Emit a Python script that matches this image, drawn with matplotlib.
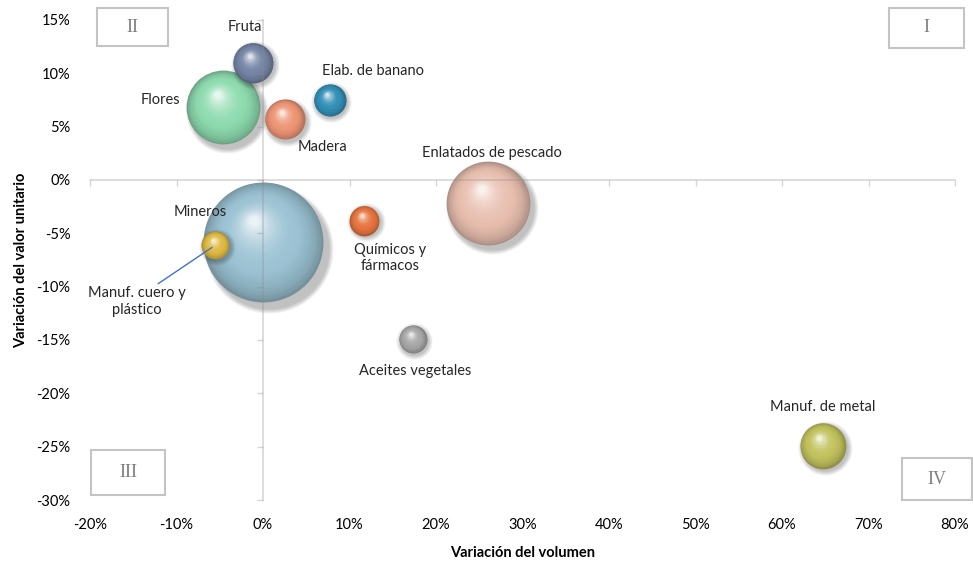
import numpy as np
import matplotlib
matplotlib.use('Agg')
import matplotlib.pyplot as plt
from matplotlib.colors import to_rgb
from matplotlib.patches import Rectangle
from matplotlib.transforms import offset_copy

plt.rcParams['font.family'] = ['Lato', 'DejaVu Sans']

# variación del volumen (%), variación del valor unitario (%), participación (%)
names = ['Mineros', 'Enlatados de pescado', 'Flores', 'Manuf. de metal', 'Fruta',
         'Madera', 'Elab. de banano', 'Químicos y\nfármacos', 'Aceites vegetales',
         'Manuf. cuero y\nplástico']
vol = [0.0, 26.0, -4.6, 64.7, -1.2, 2.5, 7.7, 11.7, 17.3, -5.5]
val = [-5.8, -2.2, 6.8, -24.9, 11.0, 5.7, 7.5, -3.8, -14.9, -6.1]
share = [40.3, 19.7, 15.3, 5.9, 4.5, 4.5, 2.9, 2.5, 2.2, 2.2]
colors = ['#9cc3d4', '#e9c0b0', '#8fdcb0', '#c2c25e', '#7686a6',
          '#ee9676', '#3390b8', '#e8753f', '#a8a8a8', '#e0ba44']
# label positions (data units)
lab_x = [-7.2, 26.5, -11.9, 64.7, -2.1, 6.9, 12.7, 14.7, 17.6, -14.6]
lab_y = [-3.0, 2.5, 7.5, -21.3, 14.3, 3.1, 10.2, -7.3, -17.9, -11.4]

xticks = list(range(-20, 81, 10))
yticks = list(range(-30, 16, 5))

SCALE = 185.0  # points^2 per unit of share


def sphere(ax, x, y, s, color, n=40):
    fig = ax.figure
    r = np.sqrt(s) / 2.0
    base = np.array(to_rgb(color))
    dark = base * 0.72
    white = np.ones(3)
    # soft drop shadow
    for k in range(6):
        tr = offset_copy(ax.transData, fig=fig, x=r * 0.10, y=-r * 0.12, units='points')
        ax.scatter(x, y, s=(2 * r + 1.2 * k) ** 2, color='k', alpha=0.045, lw=0,
                   transform=tr, zorder=3)
    for i in range(n):
        t = i / n
        rad = r * (1 - 0.94 * t)
        dx, dy = -0.16 * r * t, 0.36 * r * t
        if t < 0.35:
            c = dark + (base - dark) * (t / 0.35) ** 0.5
        else:
            c = base + (white - base) * ((t - 0.35) / 0.65) ** 2.0 * 0.9
        tr = offset_copy(ax.transData, fig=fig, x=dx, y=dy, units='points')
        ax.scatter(x, y, s=(2 * rad) ** 2, color=np.clip(c, 0, 1), lw=0,
                   alpha=0.93 if i == 0 else 0.6, transform=tr, zorder=3)


fig = plt.figure(figsize=(9.73, 5.7), dpi=100)
ax = fig.add_axes([90 / 973, 1 - 500 / 570, 865 / 973, 480 / 570])
ax.set_xlim(-20, 80)
ax.set_ylim(-30, 15)

order = np.argsort(share)[::-1]
for i in order:
    sphere(ax, vol[i], val[i], share[i] * SCALE, colors[i])

for i in range(len(names)):
    if names[i].startswith('Manuf. cuero'):
        ax.annotate(names[i], xy=(vol[i], val[i]), xytext=(lab_x[i], lab_y[i]),
                    ha='center', va='center', fontsize=10.5, color='#262626',
                    arrowprops=dict(arrowstyle='-', color='#4472c4', lw=1.0,
                                    relpos=(0.7, 1.05), shrinkA=0, shrinkB=3),
                    zorder=12)
    else:
        ax.text(lab_x[i], lab_y[i], names[i], ha='center', va='center',
                fontsize=10.5, color='#262626', zorder=12)

# axes crossing at zero
for side in ['top', 'right']:
    ax.spines[side].set_visible(False)
ax.spines['left'].set_position(('data', 0))
ax.spines['bottom'].set_position(('data', 0))
for side in ['left', 'bottom']:
    ax.spines[side].set_color('#8c8c8c')
    ax.spines[side].set_alpha(0.35)
    ax.spines[side].set_linewidth(1.2)
    ax.spines[side].set_zorder(10)
ax.xaxis.set_zorder(10)
ax.yaxis.set_zorder(10)
ax.set_xticks(xticks)
ax.set_yticks(yticks)
ax.tick_params(labelleft=False, labelbottom=False, direction='out', length=4,
               width=1.0, color=(0.55, 0.55, 0.55, 0.35))

sx = ax.secondary_xaxis('bottom')
sx.set_xticks(xticks)
sx.set_xticklabels([f'{v}%' for v in xticks])
sx.tick_params(length=0, pad=13, labelsize=10.5, labelcolor='#000000')
sx.spines['bottom'].set_visible(False)
sx.set_xlabel('Variación del volumen', fontsize=10.5, fontweight='bold', labelpad=10)

sy = ax.secondary_yaxis('left')
sy.set_yticks(yticks)
sy.set_yticklabels([f'{v}%' for v in yticks])
sy.tick_params(length=0, pad=14, labelsize=10.5, labelcolor='#000000')
sy.spines['left'].set_visible(False)
sy.set_ylabel('Variación del valor unitario', fontsize=10.5, fontweight='bold', labelpad=6)

# quadrant boxes
quads = [('I', 889, 8, 75, 40), ('II', 97, 8, 71, 38),
         ('III', 91, 450, 74, 45), ('IV', 902, 458, 70, 42)]
for lab, x0, y0, w, h in quads:
    fig.add_artist(Rectangle((x0 / 973, 1 - (y0 + h) / 570), w / 973, h / 570,
                             transform=fig.transFigure, facecolor='white',
                             edgecolor='#c4c4c4', lw=1.5, zorder=20))
    fig.text((x0 + w / 2) / 973, 1 - (y0 + h / 2) / 570, lab, ha='center', va='center',
             family=['Liberation Serif', 'DejaVu Serif'], fontsize=13, color='#7f7f7f',
             zorder=21)

fig.savefig('out.png', dpi=100)
